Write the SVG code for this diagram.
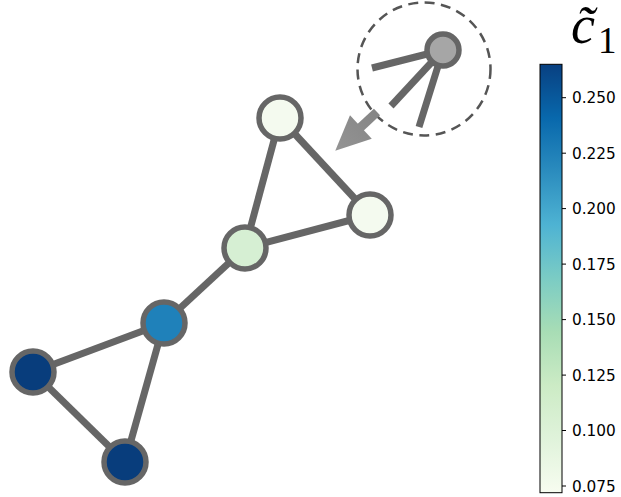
<svg xmlns="http://www.w3.org/2000/svg" width="621" height="497" viewBox="0 0 621 497">
<style>
.edge{stroke:#666666;stroke-width:7;fill:none}
.node{stroke:#666666;stroke-width:5.5}
.tick{stroke:#000;stroke-width:1}
.tl{font-family:"DejaVu Sans",sans-serif;font-size:15.3px;fill:#000}
</style>
<defs>
<linearGradient id="cmap" x1="0" y1="1" x2="0" y2="0">
<stop offset="0" stop-color="#f7fcf0"/>
<stop offset="0.125" stop-color="#e0f3db"/>
<stop offset="0.25" stop-color="#ccebc5"/>
<stop offset="0.375" stop-color="#a8ddb5"/>
<stop offset="0.5" stop-color="#7bccc4"/>
<stop offset="0.625" stop-color="#4eb3d3"/>
<stop offset="0.75" stop-color="#2b8cbe"/>
<stop offset="0.875" stop-color="#0868ac"/>
<stop offset="1" stop-color="#084081"/>
</linearGradient>
<linearGradient id="arrowg" gradientUnits="userSpaceOnUse" x1="0" y1="0" x2="57" y2="0">
<stop offset="0" stop-color="#858585"/>
<stop offset="1" stop-color="#949494"/>
</linearGradient>
</defs>
<rect width="621" height="497" fill="#fff"/>
<g id="connectors">
<line class="edge" x1="280" y1="118" x2="370" y2="215"/>
<line class="edge" x1="280" y1="118" x2="245" y2="248"/>
<line class="edge" x1="370" y1="215" x2="245" y2="248"/>
<line class="edge" x1="245" y1="248" x2="164" y2="323"/>
<line class="edge" x1="164" y1="323" x2="33" y2="372"/>
<line class="edge" x1="164" y1="323" x2="125" y2="462"/>
<line class="edge" x1="33" y1="372" x2="125" y2="462"/>
</g>
<g id="node-a"><circle class="node" cx="280" cy="118" r="21" fill="#f4faef"/></g>
<g id="node-b"><circle class="node" cx="370" cy="215" r="21" fill="#f4faef"/></g>
<g id="node-c"><circle class="node" cx="245" cy="248" r="21" fill="#d6efd3"/></g>
<g id="node-d"><circle class="node" cx="164" cy="323" r="21" fill="#1f81ba"/></g>
<g id="node-e"><circle class="node" cx="33" cy="372" r="21" fill="#083d7c"/></g>
<g id="node-f"><circle class="node" cx="125" cy="462" r="21" fill="#083d7c"/></g>
<g id="inset">
<circle cx="424" cy="69" r="66.5" fill="none" stroke="#555" stroke-width="2.5" stroke-dasharray="10,6.5"/>
<line class="edge" x1="443" y1="50" x2="372" y2="68"/>
<line class="edge" x1="443" y1="50" x2="391" y2="106"/>
<line class="edge" x1="443" y1="50" x2="419" y2="127"/>
<circle class="node" cx="443" cy="50" r="16" fill="#a6a6a6"/>
</g>
<g id="arrow" transform="translate(377,112) rotate(137.1)">
<rect x="0" y="-4.5" width="24" height="9" fill="url(#arrowg)"/>
<polygon points="22,-16 57,0 22,16" fill="url(#arrowg)"/>
</g>
<g id="colorbar">
<rect x="540" y="64.3" width="22" height="428.4" fill="url(#cmap)" stroke="#000" stroke-width="1"/>
<line class="tick" x1="562" y1="97.7" x2="566" y2="97.7"/>
<line class="tick" x1="562" y1="153.2" x2="566" y2="153.2"/>
<line class="tick" x1="562" y1="208.6" x2="566" y2="208.6"/>
<line class="tick" x1="562" y1="264.1" x2="566" y2="264.1"/>
<line class="tick" x1="562" y1="319.6" x2="566" y2="319.6"/>
<line class="tick" x1="562" y1="375.1" x2="566" y2="375.1"/>
<line class="tick" x1="562" y1="430.5" x2="566" y2="430.5"/>
<line class="tick" x1="562" y1="486" x2="566" y2="486"/>
<text class="tl" x="572" y="103.2">0.250</text>
<text class="tl" x="572" y="158.7">0.225</text>
<text class="tl" x="572" y="214.1">0.200</text>
<text class="tl" x="572" y="269.6">0.175</text>
<text class="tl" x="572" y="325.1">0.150</text>
<text class="tl" x="572" y="380.6">0.125</text>
<text class="tl" x="572" y="436">0.100</text>
<text class="tl" x="572" y="491.5">0.075</text>
<text x="571" y="43" font-family="'Liberation Serif',serif" font-style="italic" font-size="54">c&#x303;<tspan font-style="normal" font-size="37" dy="10" dx="3">1</tspan></text>
</g>
</svg>
